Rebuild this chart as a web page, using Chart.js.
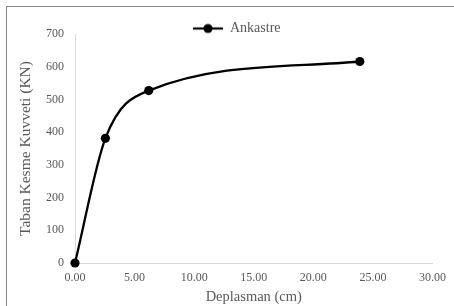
<!DOCTYPE html>
<html>
<head>
<meta charset="utf-8">
<script src="https://cdn.jsdelivr.net/npm/chart.js@4/dist/chart.umd.min.js"></script>
<style>
  html, body { margin: 0; padding: 0; background: #fff; overflow: hidden; }
  #wrap { position: relative; width: 454px; height: 306px; }
  #frame { position: absolute; left: 6px; top: 6px; width: 470px; height: 320px; border: 1px solid #8a8a8a; }
  canvas { position: absolute; left: 0; top: 0; }
</style>
</head>
<body>
<div id="wrap">
  <div id="frame"></div>
  <canvas id="grafico" width="454" height="306"></canvas>
</div>
<script>
// valores
const deplasman = [0, 2.55, 6.19, 23.9];      // cm
const kesmeKuvveti = [0, 381, 527, 616];     // KN
const seriesNome = 'Ankastre';
const xTicks = [0, 5, 10, 15, 20, 25, 30];
const yTicks = [0, 100, 200, 300, 400, 500, 600, 700];

const cinza = '#595959';
const fonte = "'Liberation Serif', 'Times New Roman', serif";

// marcador da legenda: linha com ponto
const marcador = document.createElement('canvas');
marcador.width = 30; marcador.height = 12;
(function(){
  const c = marcador.getContext('2d');
  c.strokeStyle = '#000'; c.lineWidth = 2.2;
  c.beginPath(); c.moveTo(0, 6); c.lineTo(30, 6); c.stroke();
  c.fillStyle = '#000';
  c.beginPath(); c.arc(15, 6, 4.6, 0, Math.PI * 2); c.fill();
})();

// coloca a legenda acima do chartArea, no alto
const moverLegenda = {
  id: 'moverLegenda',
  afterLayout(chart){
    const lg = chart.legend;
    if(!lg || !lg.columnSizes || !lg.columnSizes.length) return;
    const h = lg.columnSizes[0].height;
    const w = lg.columnSizes[0].width;
    lg.top = 21.5; lg.bottom = lg.top + h;
    lg.left = 193; lg.right = lg.left + w;
  }
};

const pontos = deplasman.map((x, i) => ({x, y: kesmeKuvveti[i]}));

new Chart(document.getElementById('grafico').getContext('2d'), {
  type: 'line',
  data: {
    datasets: [{
      label: seriesNome,
      data: pontos,
      borderColor: '#000',
      backgroundColor: '#000',
      borderWidth: 2.3,
      pointRadius: 4.6,
      pointHoverRadius: 4.6,
      pointBackgroundColor: '#000',
      pointBorderWidth: 0,
      cubicInterpolationMode: 'monotone',
      clip: false,
      fill: false
    }]
  },
  plugins: [moverLegenda],
  options: {
    responsive: false,
    animation: false,
    layout: { padding: { left: 0, top: 34, right: 8, bottom: 0 } },
    plugins: {
      legend: {
        position: 'chartArea',
        labels: {
          usePointStyle: true,
          pointStyle: marcador,
          pointStyleWidth: 30,
          padding: 0,
          color: cinza,
          font: { family: fonte, size: 14 }
        }
      },
      tooltip: { enabled: false }
    },
    scales: {
      x: {
        type: 'linear',
        min: 0, max: 30,
        afterBuildTicks: s => { s.ticks = xTicks.map(v => ({value: v})); },
        afterFit: s => { s.height = 43; },
        grid: { display: false, drawTicks: false },
        border: { display: true, color: '#d9d9d9', width: 1 },
        ticks: {
          padding: 8,
          color: cinza,
          font: { family: fonte, size: 12 },
          callback: v => Number(v).toFixed(2)
        },
        title: {
          display: true,
          text: 'Deplasman (cm)',
          color: cinza,
          padding: { top: 0, bottom: 0 },
          font: { family: fonte, size: 14.5 }
        }
      },
      y: {
        min: 0, max: 700,
        afterBuildTicks: s => { s.ticks = yTicks.map(v => ({value: v})); },
        afterFit: s => { s.width = 75; },
        grid: { display: false, drawTicks: false },
        border: { display: true, color: '#d9d9d9', width: 1 },
        ticks: {
          padding: 11,
          color: cinza,
          font: { family: fonte, size: 12 }
        },
        title: {
          display: true,
          text: 'Taban Kesme Kuvveti (KN)',
          color: cinza,
          padding: { top: 17, bottom: 0 },
          font: { family: fonte, size: 15.5 }
        }
      }
    }
  }
});
</script>
</body>
</html>
